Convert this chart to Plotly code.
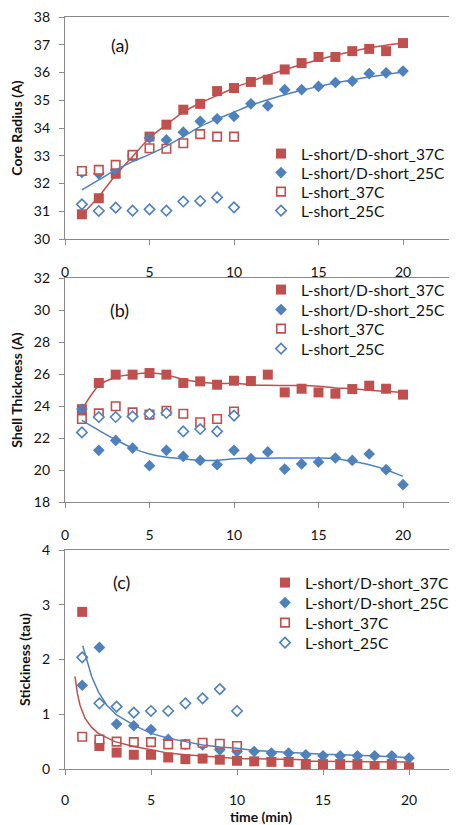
import plotly.graph_objects as go

# ---------------- data ----------------
t20 = list(range(1, 21))
t10 = list(range(1, 11))
series_names = ["L-short/D-short_37C", "L-short/D-short_25C", "L-short_37C", "L-short_25C"]

# (a) Core Radius (A)
core_ld37 = [30.89, 31.47, 32.35, 33.0, 33.69, 34.12, 34.66, 34.87, 35.33, 35.44,
             35.66, 35.74, 36.11, 36.34, 36.56, 36.56, 36.77, 36.85, 36.77, 37.06]
core_ld25 = [32.4, 32.35, 32.49, 33.0, 33.64, 33.57, 33.85, 34.24, 34.33, 34.42,
             34.87, 34.8, 35.38, 35.38, 35.5, 35.64, 35.69, 35.96, 35.99, 36.05]
core_l37 = [32.45, 32.49, 32.67, 33.03, 33.27, 33.25, 33.45, 33.78, 33.69, 33.69]
core_l25 = [31.25, 31.01, 31.13, 31.02, 31.07, 31.02, 31.35, 31.37, 31.5, 31.14]
core_trend_red = [30.87, 31.53, 32.31, 32.97, 33.64, 34.12, 34.57, 34.9, 35.17, 35.44,
                  35.68, 35.9, 36.1, 36.29, 36.46, 36.62, 36.76, 36.88, 36.98, 37.06]
core_trend_blue = [31.77, 32.13, 32.49, 32.79, 33.05, 33.35, 33.69, 34.05, 34.33, 34.57,
                   34.82, 35.02, 35.2, 35.36, 35.5, 35.62, 35.74, 35.84, 35.93, 36.02]

# (b) Shell Thickness (A)
shell_ld37 = [23.8, 25.44, 25.96, 25.96, 26.06, 25.96, 25.44, 25.54, 25.33, 25.58,
              25.56, 25.96, 24.85, 25.08, 24.85, 24.77, 25.06, 25.27, 25.08, 24.71]
shell_ld25 = [23.81, 21.23, 21.85, 21.37, 20.27, 21.23, 20.85, 20.6, 20.33, 21.23,
              20.71, 21.13, 20.06, 20.38, 20.5, 20.75, 20.6, 21.0, 20.02, 19.08]
shell_l37 = [23.19, 23.54, 23.98, 23.6, 23.46, 23.7, 23.52, 22.98, 23.19, 23.66]
shell_l25 = [22.35, 23.31, 23.31, 23.35, 23.5, 23.56, 22.41, 22.56, 22.41, 23.4]
shell_trend_red = [23.77, 25.27, 25.8, 25.98, 26.06, 25.96, 25.65, 25.5, 25.4, 25.42,
                   25.33, 25.29, 25.28, 25.28, 25.23, 25.13, 25.08, 24.98, 24.92, 24.85]
shell_trend_blue = [23.1, 22.48, 21.89, 21.37, 21.0, 20.79, 20.69, 20.6, 20.6, 20.7,
                    20.73, 20.74, 20.75, 20.75, 20.75, 20.71, 20.54, 20.33, 20.02, 19.6]

# (c) Stickiness (tau)
stick_ld37 = [2.87, 0.42, 0.3, 0.26, 0.26, 0.21, 0.18, 0.19, 0.17, 0.15,
              0.14, 0.13, 0.13, 0.09, 0.09, 0.09, 0.09, 0.055, 0.09, 0.03]
stick_ld25 = [1.53, 2.22, 0.82, 0.79, 0.72, 0.54, 0.45, 0.44, 0.35, 0.32,
              0.32, 0.29, 0.29, 0.26, 0.24, 0.24, 0.24, 0.24, 0.24, 0.2]
stick_l37 = [0.59, 0.54, 0.5, 0.49, 0.49, 0.45, 0.45, 0.48, 0.46, 0.42]
stick_l25 = [2.04, 1.2, 1.14, 1.03, 1.06, 1.06, 1.2, 1.29, 1.46, 1.06]
stick_trend_red_t = [0.58, 0.72, 0.87, 1.16, 1.55, 1.94, 2.9, 4, 5, 6, 7, 8, 9, 10, 14.1, 14.3, 20]
stick_trend_red = [1.69, 1.38, 1.17, 0.93, 0.76, 0.65, 0.5, 0.41, 0.35, 0.29, 0.26, 0.24, 0.21,
                   0.19, 0.17, 0.14, 0.13]
stick_trend_blue_t = [1.03, 1.26, 1.55, 1.94, 2.42, 3, 4, 5, 6, 7, 8, 9, 10, 11, 13, 15, 17, 20]
stick_trend_blue = [2.25, 1.99, 1.69, 1.41, 1.17, 0.99, 0.8, 0.65, 0.56, 0.5, 0.44, 0.4, 0.38,
                    0.34, 0.3, 0.27, 0.25, 0.21]

x_ticks = [0, 5, 10, 15, 20]
panel_labels = ["(a)", "(b)", "(c)"]

# ---------------- styling / layout (window pixels; page body has an 8px margin) ----------------
RED = "#C0504D"
BLUE = "#4F81BD"
AX = "#8a8a8a"
FONT = "Lato"
TXT = "#111111"

OFF = 8
W, H = 457 - OFF, 825 - OFF
ML = 65 - OFF
MR = 0
MT = 17 - OFF
PLOT_BOTTOM = 769 - OFF
MB = H - PLOT_BOTTOM
PW = W - ML - MR
PH = H - MT - MB


def px_x(px):
    return (px - OFF - ML) / PW


def px_y(py):
    return (H - MB - (py - OFF)) / PH


def ydom(top_px, bot_px):
    return [px_y(bot_px), px_y(top_px)]


fig = go.Figure()

panels = [
    dict(ax="", y=(core_ld37, core_ld25, core_l37, core_l25),
         trend=((t20, core_trend_red, "spline"), (t20, core_trend_blue, "spline")),
         leg_x=261, leg_rows=[154, 173, 192, 211], lab=(3.25, 37.0)),
    dict(ax="2", y=(shell_ld37, shell_ld25, shell_l37, shell_l25),
         trend=((t20, shell_trend_red, "spline"), (t20, shell_trend_blue, "spline")),
         leg_x=261, leg_rows=[290, 310, 329, 349], lab=(3.25, 30.0)),
    dict(ax="3", y=(stick_ld37, stick_ld25, stick_l37, stick_l25),
         trend=((stick_trend_red_t, stick_trend_red, "linear"),
                (stick_trend_blue_t, stick_trend_blue, "linear")),
         leg_x=265, leg_rows=[583, 603, 623, 643], lab=(3.26, 3.42)),
]

marker_styles = [
    dict(symbol="square", size=10, color=RED, line=dict(width=0)),
    dict(symbol="diamond", size=9, color=BLUE, line=dict(width=0)),
    dict(symbol="square", size=8.5, color="white", line=dict(width=1.6, color=RED)),
    dict(symbol="diamond", size=8, color="white", line=dict(width=1.6, color=BLUE)),
]

legend_layouts = {}
leg_n = 0
for p in panels:
    xs = [t20, t20, t10, t10]
    for i in range(4):
        leg_n += 1
        lname = "legend" if leg_n == 1 else f"legend{leg_n}"
        legend_layouts[lname] = dict(
            font=dict(family=FONT, size=15.5, color=TXT), bgcolor="rgba(0,0,0,0)",
            xref="paper", yref="paper", xanchor="left", yanchor="middle",
            x=px_x(p["leg_x"]), y=px_y(p["leg_rows"][i]), itemclick=False,
        )
        fig.add_trace(go.Scatter(
            x=xs[i], y=p["y"][i], mode="markers", name=series_names[i],
            marker=marker_styles[i], xaxis="x" + p["ax"], yaxis="y" + p["ax"], legend=lname,
        ))
    for (tx, ty, shp), col in zip(p["trend"], (RED, BLUE)):
        fig.add_trace(go.Scatter(
            x=tx, y=ty, mode="lines", line=dict(color=col, width=1.5, shape=shp, smoothing=0.8),
            showlegend=False, hoverinfo="skip", xaxis="x" + p["ax"], yaxis="y" + p["ax"],
        ))

common_x = dict(showline=True, linecolor=AX, linewidth=1.3, mirror=True, ticks="outside",
                ticklen=5, tickcolor=AX, tickvals=x_ticks, showgrid=False, zeroline=False,
                tickfont=dict(family=FONT, size=14, color=TXT), ticklabelstandoff=15,
                ticklabeloverflow="allow")
common_y = dict(showline=True, linecolor=AX, linewidth=1.3, ticks="outside", ticklen=5,
                tickcolor=AX, showgrid=False, zeroline=False,
                tickfont=dict(family=FONT, size=14, color=TXT), ticklabelstandoff=6,
                ticklabeloverflow="allow")
title_font = dict(family=FONT, size=14, color=TXT, weight="bold")

fig.update_layout(
    width=W, height=H, margin=dict(l=ML, r=MR, t=MT, b=MB, autoexpand=False),
    paper_bgcolor="white", plot_bgcolor="white",
    showlegend=True,
    xaxis=dict(common_x, domain=[0, px_x(455)], range=[0, 390 / 16.9], anchor="y"),
    yaxis=dict(common_y, domain=ydom(17, 239), range=[30, 38], dtick=1, mirror=True,
               anchor="x", title=dict(text="Core Radius (A)", font=title_font, standoff=8)),
    xaxis2=dict(common_x, domain=[0, 1], range=[0, 392 / 16.9], anchor="y2"),
    yaxis2=dict(common_y, domain=ydom(278, 502), range=[18, 32], dtick=2, anchor="x2",
                title=dict(text="Shell Thickness (A)", font=title_font, standoff=8)),
    xaxis3=dict(common_x, domain=[0, 1], range=[0, 392 / 17.2], anchor="y3",
                ticklabelstandoff=13,
                title=dict(text="time (min)", font=title_font, standoff=11)),
    yaxis3=dict(common_y, domain=ydom(550, 769), range=[0, 4], dtick=1, anchor="x3",
                title=dict(text="Stickiness (tau)", font=title_font, standoff=8)),
    **legend_layouts,
)

for txt, p in zip(panel_labels, panels):
    fig.add_annotation(text=txt, xref="x" + p["ax"], yref="y" + p["ax"],
                       x=p["lab"][0], y=p["lab"][1], showarrow=False,
                       xanchor="center", yanchor="middle",
                       font=dict(family=FONT, size=18, color=TXT))

fig.write_html("out.html")
